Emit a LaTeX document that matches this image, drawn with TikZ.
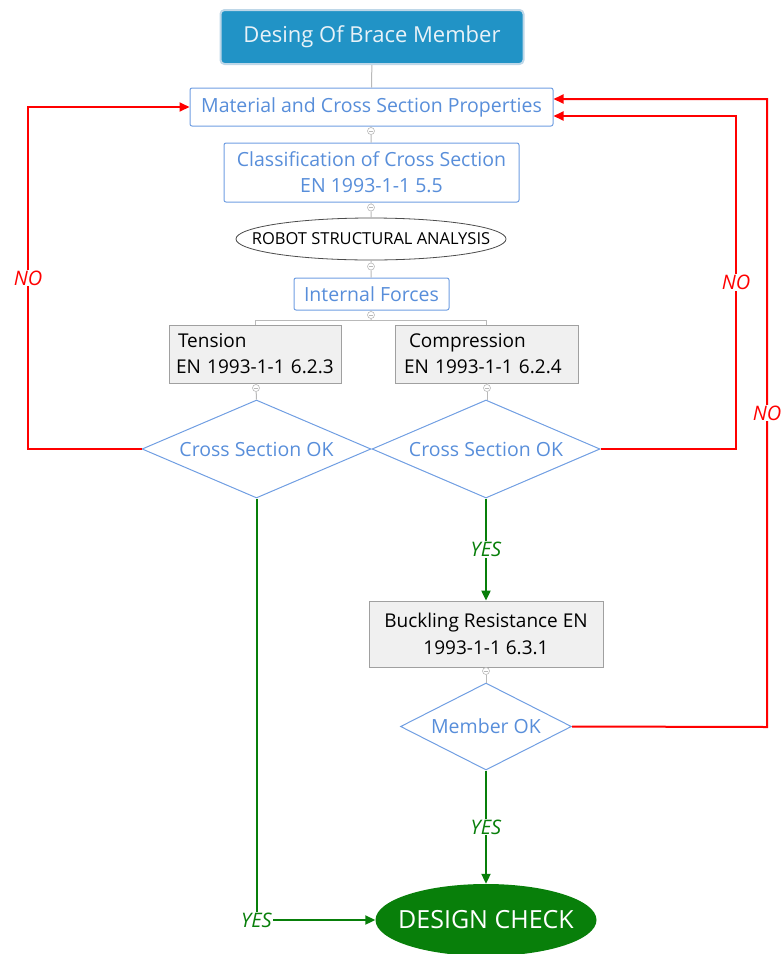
\documentclass[tikz,border=0pt]{standalone}
\usepackage{fontspec}
\setmainfont{Open Sans}
\usetikzlibrary{shapes.geometric,arrows.meta,calc}
\definecolor{bluetxt}{RGB}{88,142,218}
\definecolor{blueline}{RGB}{112,158,226}
\definecolor{titlefill}{RGB}{33,147,198}
\definecolor{titleedge}{RGB}{190,215,232}
\definecolor{boxfill}{RGB}{240,240,240}
\definecolor{boxedge}{RGB}{160,160,160}
\definecolor{conn}{RGB}{185,185,185}
\definecolor{dgreen}{RGB}{8,127,10}
\definecolor{nored}{RGB}{255,0,0}
\tikzset{
  bluebox/.style={draw=blueline,line width=1pt,rounded corners=2pt,fill=white,text=bluetxt,font=\fontsize{19.5}{26}\selectfont,inner sep=0pt,align=center},
  graybox/.style={draw=boxedge,line width=0.8pt,fill=boxfill,text=black,font=\fontsize{19}{26}\selectfont,inner sep=0pt},
  decision/.style={diamond,draw=blueline,line width=1pt,text=bluetxt,font=\fontsize{19.5}{22}\selectfont,inner sep=0pt},
  marker/.style={circle,draw=conn,fill=white,line width=0.6pt,minimum size=7pt,inner sep=0pt,
    path picture={\draw[conn,line width=0.5pt] ([xshift=-2pt]path picture bounding box.center) -- ([xshift=2pt]path picture bounding box.center);}},
  grayconn/.style={draw=conn,line width=1pt},
  noline/.style={draw=nored,line width=2pt,-{Triangle[length=10pt,width=9pt]}},
  yesline/.style={draw=dgreen,line width=2pt,-{Triangle[length=10pt,width=9pt]}},
  nolabel/.style={fill=white,text=nored,font=\fontsize{20}{22}\selectfont\itshape,inner sep=1pt},
  yeslabel/.style={fill=white,text=dgreen,font=\fontsize{20}{22}\selectfont\itshape,inner sep=1pt},
}
\begin{document}
\begin{tikzpicture}[x=1pt,y=-1pt]
\useasboundingbox (0,0) rectangle (783,954);
% title
\node[draw=titleedge,line width=2pt,fill=titlefill,rounded corners=4pt,minimum width=303pt,minimum height=54pt,inner sep=0pt,text={rgb,255:red,232;green,242;blue,248},font=\fontsize{22}{26}\selectfont] (title) at (372,37) {Desing Of Brace Member};
% boxes
\node[bluebox,minimum width=363pt,minimum height=38pt] (mat) at (371.5,107) {Material and Cross Section Properties};
\node[bluebox,minimum width=295pt,minimum height=59pt] (cls) at (371.5,172.5) {Classification of Cross Section\\EN 1993-1-1 5.5};
\node[ellipse,draw=black!70,line width=0.8pt,fill=white,minimum width=270pt,minimum height=42pt,inner sep=0pt,font=\fontsize{16.5}{18}\selectfont] (rob) at (371,239) {\makebox[0pt]{ROBOT STRUCTURAL ANALYSIS}};
\node[bluebox,minimum width=155pt,minimum height=32pt] (int) at (371.5,294) {Internal Forces};
\node[graybox,text width=162pt,inner xsep=5pt,minimum height=58pt,align=left] (ten) at (255,354) {\hspace{4pt}Tension\\\hspace{2pt}EN 1993-1-1 6.2.3};
\node[graybox,text width=167pt,inner xsep=8pt,minimum height=58pt,align=left] (com) at (486.5,354) {\hspace{6pt}Compression\\\hspace{1pt}EN 1993-1-1 6.2.4};
\node[decision,shape aspect=2.34,minimum width=229pt,minimum height=98pt] (d1) at (256.5,449) {Cross Section OK};
\node[decision,shape aspect=2.34,minimum width=228pt,minimum height=98pt] (d2) at (486,449) {Cross Section OK};
\node[graybox,minimum width=234pt,minimum height=66pt,align=center,font=\fontsize{19}{27}\selectfont] (buc) at (486,634) {Buckling Resistance EN\\1993-1-1 6.3.1};
\node[decision,shape aspect=1.97,minimum width=171pt,minimum height=87pt] (d3) at (486,726.5) {Member OK};
\node[ellipse,fill=dgreen,minimum width=221pt,minimum height=72pt,inner sep=0pt,text=white,font=\fontsize{25}{28}\selectfont] (dc) at (486,920) {\makebox[0pt]{DESIGN CHECK}};
% markers
\node[marker] (m1) at (371,131) {};
\node[marker] (m2) at (371,207.5) {};
\node[marker] (m3) at (371,266.5) {};
\node[marker] (m4) at (371,315) {};
\node[marker] (m5) at (256,388) {};
\node[marker] (m6) at (487,388) {};
\node[marker] (m7) at (486,671) {};
\coordinate (split) at (371,320);
% gray connectors
\draw[grayconn] (title) -- (mat);
\draw[grayconn] (mat) -- (m1) -- (cls);
\draw[grayconn] (cls) -- (m2) -- (rob);
\draw[grayconn] (rob) -- (m3) -- (int);
\draw[grayconn] (int) -- (m4) -- (split);
\draw[grayconn] (split) -| (ten.north);
\draw[grayconn] (split) -| (com.north);
\draw[grayconn] (ten) -- (m5) -- (d1.north);
\draw[grayconn] (com.south -| m6) -- (m6) -- (d2.north -| m6);
\draw[grayconn] (buc) -- (m7) -- (d3.north);
% NO loops
\coordinate (la) at (28,449);
\coordinate (lb) at (28,107);
\draw[noline] (d1.west) -- (la) -- node[nolabel]{NO} (lb) -- (mat.west);
\coordinate (ra) at (736,449);
\coordinate (rb) at (736,116);
\draw[noline] (d2.east) -- (ra) -- node[nolabel]{NO} (rb) -- ([yshift=-9pt]mat.east);
\coordinate (sa) at (767,727);
\coordinate (sb) at (767,99);
\draw[noline] (d3.east) -- (sa) -- node[nolabel]{NO} (sb) -- ([yshift=8pt]mat.east);
% YES
\draw[yesline] (d2.south) -- node[yeslabel]{YES} (buc.north);
\draw[yesline] (d3.south) -- node[yeslabel]{YES} (dc.north);
\draw[yesline] (d1.south) |- node[yeslabel,pos=0.5]{YES} (dc.west);
\end{tikzpicture}
\end{document}
